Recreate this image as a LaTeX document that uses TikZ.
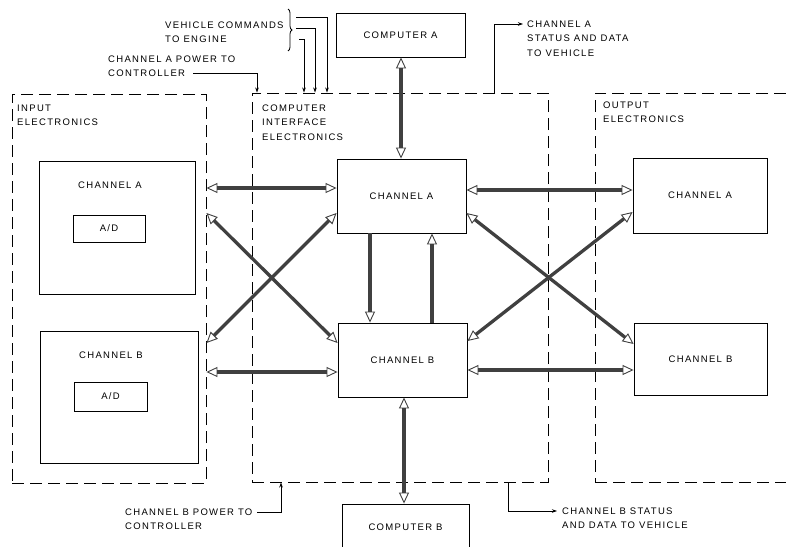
\documentclass[tikz,border=0pt]{standalone}
\usepackage{fontspec}
\setmainfont{Liberation Sans}[LetterSpace=14]
\usetikzlibrary{arrows.meta,decorations.pathreplacing,calc}
\begin{document}
\begin{tikzpicture}[x=1pt,y=-1pt,
  font=\fontsize{9.5}{14.5}\selectfont,
  bx/.style={draw,line width=0.9pt,inner sep=0pt},
  dbox/.style={draw,line width=0.9pt,dash pattern=on 12pt off 6pt,inner sep=0pt},
  lbl/.style={anchor=north west,align=left,inner sep=0pt},
  txt/.style={inner sep=0pt},
  tipo/.tip={Triangle[open,length=11pt,width=10pt,line width=0.9pt]},
  dbl/.style={line width=3.3pt,black!75,tipo-tipo},
  sgl/.style={line width=3.3pt,black!75,-tipo},
  sarrow/.style={line width=0.8pt,-{Stealth[length=5pt,width=3.5pt]}},
  thinl/.style={line width=0.8pt}]
\useasboundingbox (0,0) rectangle (786,546);
% containers
\node[dbox,minimum width=194pt,minimum height=389pt] (inbox) at (109,288.5) {};
\node[dbox,minimum width=296pt,minimum height=389pt] (cie) at (400,287.5) {};
\node[dbox,minimum width=225pt,minimum height=389pt] (outbox) at (707.5,287.5) {};
% input
\node[bx,minimum width=156pt,minimum height=133pt] (inA) at (117,227.5) {};
\node[txt] (inAt) at (110,185) {CHANNEL A};
\node[bx,minimum width=72pt,minimum height=27pt] (inAad) at (109,228.5) {A/D};
\node[bx,minimum width=158pt,minimum height=132pt] (inB) at (119,397) {};
\node[txt] (inBt) at (111,355) {CHANNEL B};
\node[bx,minimum width=73pt,minimum height=29pt] (inBad) at (110.5,396.5) {A/D};
% computers and central channels
\node[bx,minimum width=129pt,minimum height=44pt] (compA) at (400.5,35) {COMPUTER A};
\node[bx,minimum width=129pt,minimum height=74pt] (cA) at (401.5,196) {CHANNEL A};
\node[bx,minimum width=129pt,minimum height=74pt] (cB) at (402.5,360) {CHANNEL B};
\node[bx,minimum width=127pt,minimum height=46pt] (compB) at (405.5,527) {COMPUTER B};
% output
\node[bx,minimum width=134pt,minimum height=75pt] (outA) at (700,195.5) {CHANNEL A};
\node[bx,minimum width=133pt,minimum height=72pt] (outB) at (700.5,359) {CHANNEL B};
% labels
\node[lbl] (inlbl) at (17,104.5) {INPUT\\ELECTRONICS};
\node[lbl] (cielbl) at (262,104.5) {COMPUTER\\INTERFACE\\ELECTRONICS};
\node[lbl] (outlbl) at (603,101.5) {OUTPUT\\ELECTRONICS};
\node[lbl] (vclbl) at (165,21.5) {VEHICLE COMMANDS\\TO ENGINE};
\node[lbl] (apwr) at (108,55.5) {CHANNEL A POWER TO\\CONTROLLER};
\node[lbl] (astat) at (527,20.5) {CHANNEL A\\STATUS AND DATA\\TO VEHICLE};
\node[lbl] (bpwr) at (125,508.5) {CHANNEL B POWER TO\\CONTROLLER};
\node[lbl] (bstat) at (562,507.5) {CHANNEL B STATUS\\AND DATA TO VEHICLE};
% thin signal lines
\coordinate (apwrend) at (193,73);
\draw[sarrow] (apwrend) -| (cie.north -| 257,0);
\draw[thinl,decorate,decoration={brace,amplitude=4pt}] (288,9) -- (288,51);
\coordinate (vc1) at (296,17);
\coordinate (vc2) at (296,28);
\coordinate (vc3) at (299,39);
\draw[sarrow] (vc1) -| (cie.north -| 327,0);
\draw[sarrow] (vc2) -| (cie.north -| 315,0);
\draw[sarrow] (vc3) -| (cie.north -| 304,0);
\coordinate (astatin) at (523,24);
\draw[sarrow] (cie.north -| 494,0) |- (astatin);
\coordinate (bpwrend) at (257,512);
\draw[sarrow] (bpwrend) -| (cie.south -| 281,0);
\coordinate (bstatin) at (557,511);
\draw[sarrow] (cie.south -| 508,0) |- (bstatin);
% data paths left
\draw[dbl] (inbox.east |- 0,188) -- (cA.west |- 0,188);
\draw[dbl] (inbox.east |- 0,213) -- (cB.west |- 0,343);
\draw[dbl] (cA.west |- 0,213) -- (inbox.east |- 0,343);
\draw[dbl] (inbox.east |- 0,372) -- (cB.west |- 0,372);
% data paths right
\draw[dbl] (cA.east |- 0,190) -- (outA.west |- 0,190);
\draw[dbl] (cA.east |- 0,213) -- (outB.west |- 0,344);
\draw[dbl] (cB.east |- 0,341) -- (outA.west |- 0,212);
\draw[dbl] (cB.east |- 0,370) -- (outB.west |- 0,370);
% verticals
\draw[sgl] (cA.south -| 370,0) -- (cB.north -| 370,0);
\draw[sgl] (cB.north -| 432,0) -- (cA.south -| 432,0);
\draw[dbl] (compA.south -| 401,0) -- (cA.north -| 401,0);
\draw[dbl] (cB.south -| 404,0) -- (compB.north -| 404,0);
\end{tikzpicture}
\end{document}
